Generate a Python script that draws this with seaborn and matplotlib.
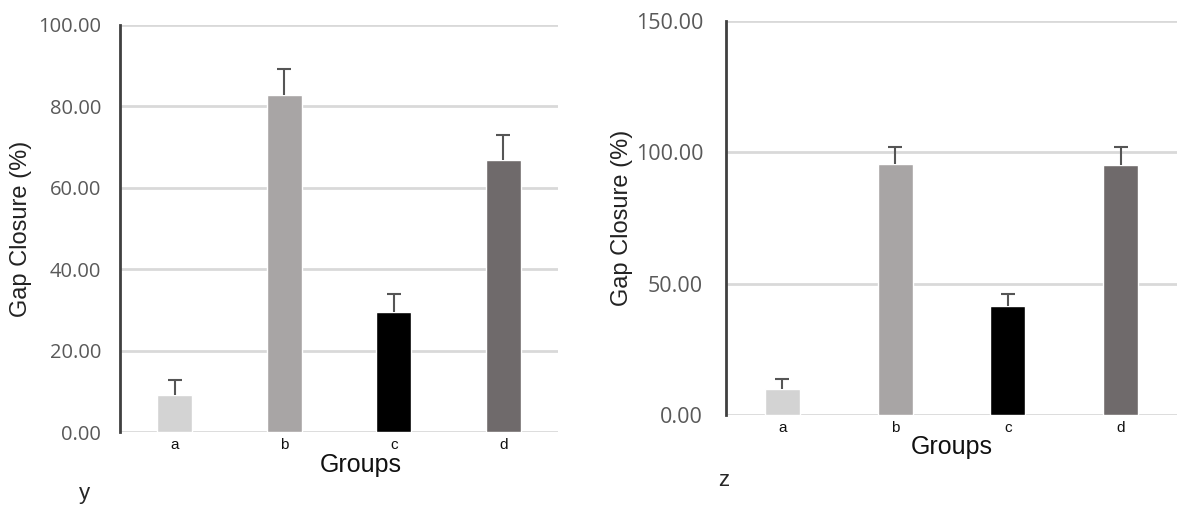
import matplotlib
matplotlib.use('Agg')
import matplotlib.pyplot as plt
import seaborn as sns
import pandas as pd

# Data
groups = ['a', 'b', 'c', 'd']
closure_y = [9.0, 82.9, 29.6, 66.9]
err_y = [3.8, 6.3, 4.4, 6.0]
closure_z = [9.9, 95.6, 41.5, 95.1]
err_z = [3.9, 6.3, 4.4, 6.8]
ticks_y = [0, 20, 40, 60, 80, 100]
ticks_z = [0, 50, 100, 150]
bar_colors = ['#d3d3d3', '#a8a5a5', '#000000', '#6f6a6b']

sns.set_style('white')
plt.rcParams['font.family'] = ['Liberation Sans', 'DejaVu Sans']

fig = plt.figure(figsize=(11.77, 5.14), dpi=100)
ax1 = fig.add_axes([0.102, 0.1595, 0.372, 0.792])
ax2 = fig.add_axes([0.6168, 0.1926, 0.3832, 0.7675])


def draw_panel(ax, values, errs, ticks, tick_size, tick_pad, width):
    df = pd.DataFrame({'group': groups, 'value': values})
    sns.barplot(data=df, x='group', y='value', hue='group', palette=bar_colors,
                legend=False, width=width, saturation=1, ax=ax, zorder=3)
    # upper error bars only
    eb = ax.errorbar(range(len(groups)), values, yerr=[[0] * len(errs), errs],
                     fmt='none', ecolor='#555555', elinewidth=1.5, capsize=5,
                     capthick=1.5, zorder=4)
    for cap in eb[1]:
        if list(cap.get_ydata()) == list(values):
            cap.set_visible(False)
    ax.set_xlim(-0.5, 3.5)
    ax.set_ylim(ticks[0], ticks[-1])
    ax.set_yticks(ticks)
    ax.set_yticklabels([f'{t:.2f}' for t in ticks], family='Open Sans',
                       fontsize=tick_size, color='#595959')
    ax.tick_params(axis='y', length=0, pad=tick_pad)
    ax.tick_params(axis='x', length=0, pad=4, labelsize=11, labelcolor='#111111')
    ax.grid(axis='y', color='#d9d9d9', linewidth=2, zorder=0)
    ax.set_axisbelow(True)
    for s in ['top', 'right', 'bottom']:
        ax.spines[s].set_visible(False)
    ax.spines['left'].set_color('#404040')
    ax.spines['left'].set_linewidth(2)
    ax.set_xlabel('Groups', fontsize=18, color='#111111', labelpad=0)
    ax.set_ylabel('Gap Closure (%)', fontsize=17, color='#222222')


draw_panel(ax1, closure_y, err_y, ticks_y, 14.5, 13.5, 0.32)
draw_panel(ax2, closure_z, err_z, ticks_z, 15.5, 16.5, 0.31)

ax1.xaxis.set_label_coords(0.55, -0.052)
ax1.yaxis.set_label_coords(-0.202, 0.5)
ax2.yaxis.set_label_coords(-0.206, 0.5)

fig.text(84 / 1177, 1 - 494 / 514, 'y', fontsize=16, ha='center', va='center')
fig.text(724 / 1177, 1 - 481 / 514, 'z', fontsize=16, ha='center', va='center')

fig.savefig('out.png', dpi=100, facecolor='white')
